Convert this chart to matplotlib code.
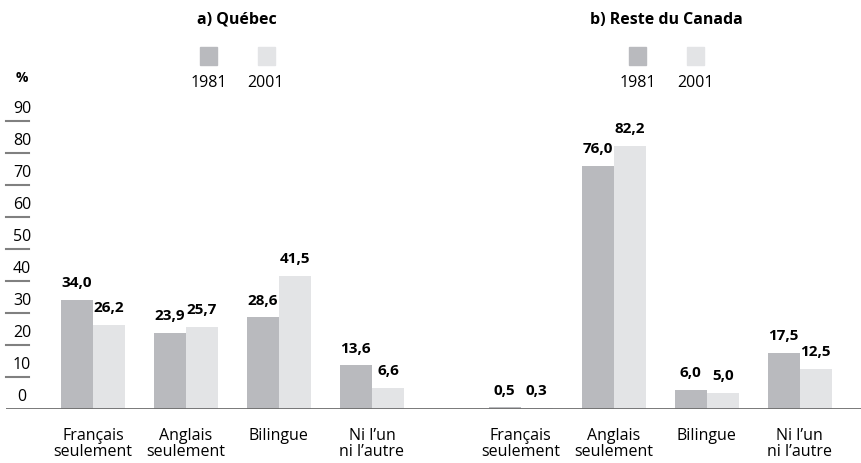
import matplotlib.pyplot as plt
import numpy as np

plt.rcParams['font.family'] = ['Liberation Sans Narrow', 'Open Sans', 'DejaVu Sans']

categories = ["Français\nseulement", "Anglais\nseulement", "Bilingue", "Ni l\u2019un\nni l\u2019autre"]
years = ["1981", "2001"]
quebec_1981 = [34.0, 23.9, 28.6, 13.6]
quebec_2001 = [26.2, 25.7, 41.5, 6.6]
reste_1981 = [0.5, 76.0, 6.0, 17.5]
reste_2001 = [0.3, 82.2, 5.0, 12.5]
yticks = [0, 10, 20, 30, 40, 50, 60, 70, 80, 90]

c1981 = "#b9babe"
c2001 = "#e3e4e6"

fig = plt.figure(figsize=(8.62, 4.63), dpi=100)
W, H = 862, 463
ax = fig.add_axes([6 / W, (H - 409) / H, 1 - 6 / W, (409 - 89) / H])
ax.set_xlim(-0.935, 8.27)
ax.set_ylim(0, 100)
ax.axis("off")

pos_q = np.arange(4)
pos_r = np.arange(4) + 4.6
bw = 0.345


def fmt(v):
    return f"{v:.1f}".replace(".", ",")


for pos, v81, v01 in [(pos_q, quebec_1981, quebec_2001), (pos_r, reste_1981, reste_2001)]:
    b1 = ax.bar(pos - bw / 2, v81, bw, color=c1981)
    b2 = ax.bar(pos + bw / 2, v01, bw, color=c2001)
    for bars, vals in [(b1, v81), (b2, v01)]:
        for b, v in zip(bars, vals):
            ax.annotate(fmt(v), (b.get_x() + b.get_width() / 2, v), xytext=(0, 7),
                        textcoords="offset points", ha="center", va="bottom",
                        fontsize=11, fontweight="bold")
    for p, c in zip(pos, categories):
        ax.text(p, -5.8, c, ha="center", va="top", fontsize=11.5, linespacing=1.02)

# baseline
ax.axhline(0, color="#6d6d6d", lw=2)

# y ticks as short lines with labels above
ytr = ax.get_yaxis_transform()
for t in yticks[1:]:
    ax.plot([0, 23 / 856], [t, t], transform=ytr, color="#808080", lw=1.5, clip_on=False)
for t in yticks:
    ax.text(16 / 856, t + 1.3, str(t), transform=ytr, ha="center", va="bottom", fontsize=11.5)
fig.text(22 / W, 1 - 78 / H, "%", ha="center", va="center", fontsize=10, fontweight="bold")

# titles and legends
for cx, title in [(237, "a) Qu\u00e9bec"), (666, "b) Reste du Canada")]:
    fig.text(cx / W, 1 - 20 / H, title, ha="center", va="center", fontsize=11.5, fontweight="bold")
    for dx, yr, col in [(-28, years[0], c1981), (29, years[1], c2001)]:
        sq = plt.Rectangle(((cx + dx - 8.5) / W, 1 - 65 / H), 17 / W, 18 / H,
                           transform=fig.transFigure, color=col)
        fig.patches.append(sq)
        fig.text((cx + dx) / W, 1 - 83 / H, yr, ha="center", va="center", fontsize=11.5)

fig.savefig("out.png", dpi=100)
